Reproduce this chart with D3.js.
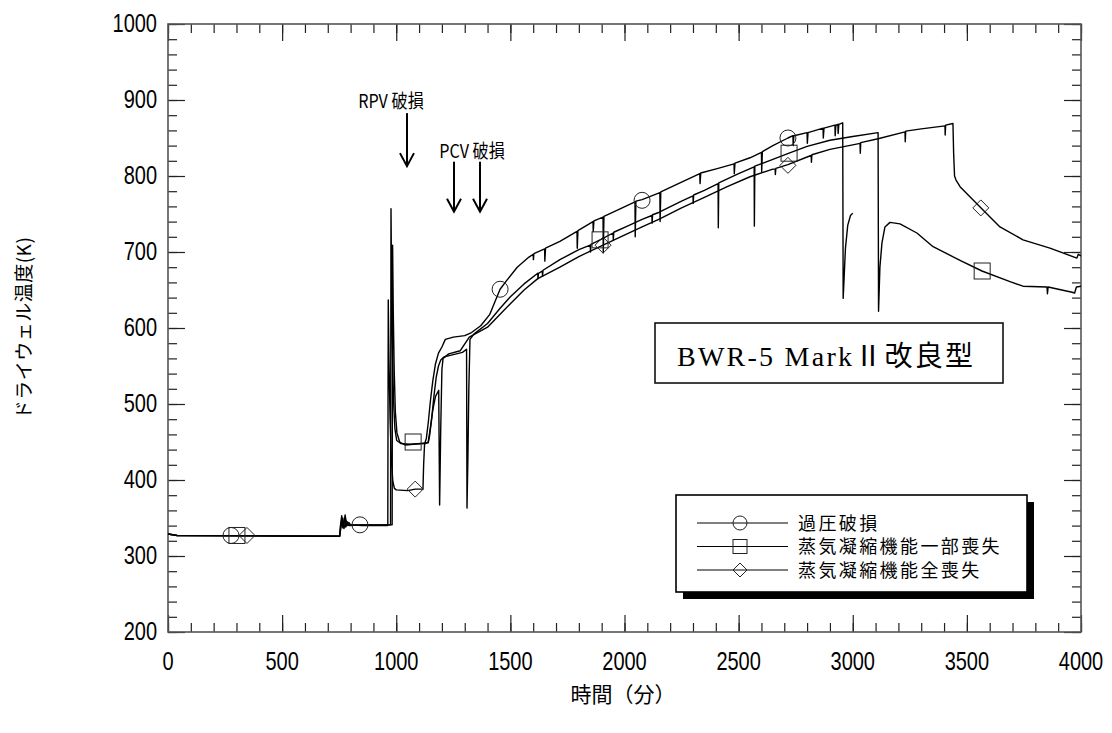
<!DOCTYPE html>
<html><head><meta charset="utf-8">
<script src="https://cdn.jsdelivr.net/npm/d3@7"></script>
<style>
body{margin:0;background:#fff;}
text{fill:#000;}
</style></head><body>
<svg id="chart" width="1112" height="733"></svg>
<script>
// Axis ticks (minutes / Kelvin)
const timeMajor = [0, 500, 1000, 1500, 2000, 2500, 3000, 3500, 4000];
const tempMajor = [200, 300, 400, 500, 600, 700, 800, 900, 1000];
const timeMinor = d3.range(0, 4001, 100);
const tempMinor = d3.range(200, 1001, 20);

// Drywell temperature histories [time (min), temperature (K)]
const overpressure = [[0,329],[40,327],[752,326],[756,341],[761,353],[766,337],[772,350],[779,338],[786,345],[795,340],[850,341],[975,341],[977,757],[980,640],[984,560],[988,505],[994,468],[1002,452],[1020,448],[1060,447],[1125,448],[1132,455],[1140,475],[1150,505],[1160,530],[1172,553],[1185,567],[1200,575],[1215,585],[1250,588],[1300,590],[1330,594],[1370,603],[1410,618],[1440,640],[1455,651],[1485,663],[1530,680],[1580,693],[1600,697],[1601,690],[1603,698],[1650,704],[1651,688],[1654,705],[1717,714],[1792,727],[1793,705],[1796,728],[1862,740],[1863,727],[1866,741],[1906,746],[1907,699],[1910,747],[1990,758],[2046,766],[2047,720],[2050,767],[2077,769],[2155,778],[2156,740],[2159,779],[2250,792],[2330,803],[2331,790],[2334,804],[2410,810],[2480,816],[2481,803],[2484,817],[2550,824],[2600,831],[2601,806],[2604,832],[2650,840],[2716,850],[2738,853],[2739,840],[2742,853],[2800,857],[2801,843],[2804,857],[2870,863],[2871,850],[2874,863],[2922,867],[2923,853],[2926,867],[2935,868],[2936,856],[2939,868],[2956,870],[2958,639],[2962,665],[2968,705],[2978,735],[2990,748],[3000,751]];
const partialLoss = [[0,329],[40,327],[752,326],[757,342],[763,350],[769,339],[776,354],[783,340],[792,344],[800,341],[850,341],[982,341],[984,709],[987,620],[991,545],[996,490],[1003,462],[1015,450],[1040,446],[1074,447],[1105,448],[1140,449],[1146,458],[1155,480],[1165,510],[1175,535],[1185,550],[1195,558],[1210,562],[1250,565],[1290,568],[1308,572],[1310,363],[1314,430],[1318,520],[1323,585],[1340,592],[1400,606],[1455,626],[1500,641],[1560,658],[1620,672],[1621,665],[1623,672],[1640,675],[1641,668],[1643,676],[1717,690],[1800,703],[1850,709],[1851,700],[1853,710],[1893,716],[1950,725],[1951,716],[1953,726],[2020,735],[2077,743],[2120,748],[2121,738],[2123,749],[2150,752],[2250,767],[2300,774],[2301,764],[2303,775],[2350,781],[2410,790],[2411,732],[2413,791],[2500,803],[2568,812],[2569,734],[2571,813],[2650,822],[2721,830],[2800,839],[2900,847],[3000,852],[3111,857],[3113,622],[3119,680],[3128,712],[3141,733],[3163,739],[3207,737],[3281,725],[3352,707],[3470,689],[3566,675],[3689,661],[3746,655],[3851,654],[3853,645],[3856,654],[3961,647],[3972,646],[3980,654],[4000,655]];
const totalLoss = [[0,329],[40,327],[752,326],[758,338],[764,348],[771,336],[779,347],[788,340],[800,341],[850,340],[963,340],[965,637],[968,560],[973,480],[979,425],[985,398],[992,389],[1000,387],[1050,386],[1083,388],[1117,388],[1120,420],[1124,447],[1140,450],[1150,470],[1160,492],[1172,510],[1186,518],[1190,367],[1195,470],[1200,545],[1205,560],[1230,566],[1280,570],[1320,588],[1400,601],[1455,618],[1500,632],[1560,650],[1620,665],[1717,680],[1800,694],[1906,709],[1990,721],[2077,733],[2150,743],[2250,758],[2350,772],[2450,786],[2550,799],[2650,809],[2660,809],[2661,802],[2663,810],[2716,815],[2800,825],[2818,827],[2819,818],[2821,828],[2900,835],[3000,841],[3032,843],[3033,830],[3035,844],[3111,849],[3229,858],[3230,845],[3232,859],[3300,862],[3404,866],[3405,854],[3407,867],[3439,869],[3442,830],[3446,800],[3452,795],[3470,786],[3562,758],[3645,733],[3746,716],[3864,705],[3982,692],[3988,697],[4000,695]];

// Marker positions along each history
const overpressureMarks = [[276,327],[841,341],[1455,651],[2077,768],[2716,850]];
const partialLossMarks = [[302,327],[1074,450],[1893,716],[2721,830],[3567,675]];
const totalLossMarks = [[346,327],[1083,388],[1906,709],[2716,814],[3561,758]];

const seriesNames = ["過圧破損", "蒸気凝縮機能一部喪失", "蒸気凝縮機能全喪失"];
const seriesShapes = ["circle", "square", "diamond"];

// Event arrows: [time (min), arrow tip temperature (K)]
const rpvEvents = [[1047, 813]];
const pcvEvents = [[1253, 753], [1367, 753]];

const x = d3.scaleLinear().domain([0, 4000]).range([168, 1081]);
const y = d3.scaleLinear().domain([200, 1000]).range([632, 24]);
const svg = d3.select("#chart");

const tickFont = "'Liberation Sans',sans-serif";
const jpFont = "'Noto Sans CJK JP','Noto Sans CJK SC',sans-serif";

// ticks on all four sides, pointing inward
function ticks(axisFn, scale, values, size, transform) {
  const g = svg.append("g").attr("transform", transform)
    .call(axisFn(scale).tickValues(values).tickSize(-size).tickFormat(""));
  g.select(".domain").remove();
  g.selectAll(".tick line").attr("stroke", "#222").attr("stroke-width", 1.2);
}
const x0 = x(0), x1 = x(4000), y0 = y(200), y1 = y(1000);
ticks(d3.axisBottom, x, timeMinor, 9, `translate(0,${y0})`);
ticks(d3.axisBottom, x, timeMajor, 17, `translate(0,${y0})`);
ticks(d3.axisTop, x, timeMinor, 9, `translate(0,${y1})`);
ticks(d3.axisTop, x, timeMajor, 17, `translate(0,${y1})`);
ticks(d3.axisLeft, y, tempMinor, 9, `translate(${x0},0)`);
ticks(d3.axisLeft, y, tempMajor, 17, `translate(${x0},0)`);
ticks(d3.axisRight, y, tempMinor, 9, `translate(${x1},0)`);
ticks(d3.axisRight, y, tempMajor, 17, `translate(${x1},0)`);

svg.append("rect").attr("x", x0).attr("y", y1).attr("width", x1 - x0).attr("height", y0 - y1)
  .attr("fill", "none").attr("stroke", "#555").attr("stroke-width", 1.6);

// tick labels (condensed)
svg.append("g").selectAll("text").data(timeMajor).join("text")
  .attr("transform", d => `translate(${x(d)},${y0 + 30}) scale(0.8,1)`)
  .attr("text-anchor", "middle").attr("dominant-baseline", "central")
  .style("font-family", tickFont).style("font-size", "25px").text(d => d);
svg.append("g").selectAll("text").data(tempMajor).join("text")
  .attr("transform", d => `translate(${x0 - 11},${y(d)}) scale(0.8,1)`)
  .attr("text-anchor", "end").attr("dominant-baseline", "central")
  .style("font-family", tickFont).style("font-size", "25px").text(d => d);

// axis titles
svg.append("text").attr("x", 623).attr("y", 693)
  .attr("text-anchor", "middle").attr("dominant-baseline", "central")
  .style("font-family", jpFont).style("font-size", "21px").text("時間（分）");
svg.append("text").attr("transform", "translate(22,328) rotate(-90)")
  .attr("text-anchor", "middle").attr("dominant-baseline", "central")
  .attr("letter-spacing", "0.5px")
  .style("font-family", jpFont).style("font-size", "19px").text("ドライウェル温度(K)");

// curves
svg.append("clipPath").attr("id", "plot").append("rect")
  .attr("x", x0).attr("y", y1).attr("width", x1 - x0).attr("height", y0 - y1);
const line = d3.line().x(d => x(d[0])).y(d => y(d[1]));
const plot = svg.append("g").attr("clip-path", "url(#plot)");
[overpressure, partialLoss, totalLoss].forEach(s => {
  plot.append("path").datum(s).attr("d", line)
    .attr("fill", "none").attr("stroke", "#000").attr("stroke-width", 1.4)
    .attr("stroke-linejoin", "round");
});

function marker(g, shape, cx, cy, r) {
  let el;
  if (shape === "circle") el = g.append("circle").attr("cx", cx).attr("cy", cy).attr("r", r);
  else if (shape === "square") el = g.append("rect").attr("x", cx - r).attr("y", cy - r).attr("width", 2 * r).attr("height", 2 * r);
  else el = g.append("path").attr("d", `M${cx},${cy - r}L${cx + r},${cy}L${cx},${cy + r}L${cx - r},${cy}Z`);
  el.attr("fill", "none").attr("stroke", "#222").attr("stroke-width", 1);
}
[overpressureMarks, partialLossMarks, totalLossMarks].forEach((m, i) => {
  m.forEach(d => marker(plot, seriesShapes[i], x(d[0]), y(d[1]), 8));
});

// event arrows
function arrow(t, k, len) {
  const ax = x(t), ay = y(k);
  const g = svg.append("g").attr("stroke", "#000").attr("stroke-width", 2).attr("fill", "none");
  g.append("line").attr("x1", ax).attr("x2", ax).attr("y1", ay - len).attr("y2", ay);
  g.append("path").attr("d", `M${ax - 7},${ay - 13}L${ax},${ay}L${ax + 7},${ay - 13}`);
}
rpvEvents.forEach(d => arrow(d[0], d[1], 53));
pcvEvents.forEach(d => arrow(d[0], d[1], 50));
svg.append("text").attr("transform", `translate(${x(rpvEvents[0][0]) - 16},100) scale(0.85,1)`)
  .attr("text-anchor", "middle").attr("dominant-baseline", "central")
  .style("font-family", jpFont).style("font-size", "19px").text("RPV 破損");
svg.append("text").attr("transform", `translate(${(x(pcvEvents[0][0]) + x(pcvEvents[1][0])) / 2 + 5},150) scale(0.85,1)`)
  .attr("text-anchor", "middle").attr("dominant-baseline", "central")
  .style("font-family", jpFont).style("font-size", "19px").text("PCV 破損");

// plant type label
svg.append("rect").attr("x", 655).attr("y", 323).attr("width", 348).attr("height", 60)
  .attr("fill", "#fff").attr("stroke", "#111").attr("stroke-width", 1.6);
svg.append("text").attr("x", 677).attr("y", 366)
  .attr("textLength", 296).attr("lengthAdjust", "spacing")
  .style("font-family", "'Liberation Serif','Noto Sans CJK JP',serif").style("font-size", "28px")
  .text("BWR-5 MarkⅡ改良型");

// legend
const lx = 676, ly = 495, lw = 351, lh = 97, sh = 7;
svg.append("path")
  .attr("d", `M${lx + sh},${ly + lh}L${lx + lw},${ly + lh}L${lx + lw},${ly + sh}L${lx + lw + sh},${ly + sh}L${lx + lw + sh},${ly + lh + sh}L${lx + sh},${ly + lh + sh}Z`)
  .attr("fill", "#000");
svg.append("rect").attr("x", lx).attr("y", ly).attr("width", lw).attr("height", lh)
  .attr("fill", "#fff").attr("stroke", "#000").attr("stroke-width", 1.6);
const legend = svg.append("g");
seriesNames.forEach((name, i) => {
  const cy = 523 + i * 23.5;
  legend.append("line").attr("x1", 697).attr("x2", 788).attr("y1", cy).attr("y2", cy)
    .attr("stroke", "#000").attr("stroke-width", 1);
  marker(legend, seriesShapes[i], 740, cy, 7);
  legend.append("text").attr("x", 798).attr("y", cy + 6.5)
    .attr("letter-spacing", "2.4px")
    .style("font-family", jpFont).style("font-size", "18px").text(name);
});
</script></body></html>
